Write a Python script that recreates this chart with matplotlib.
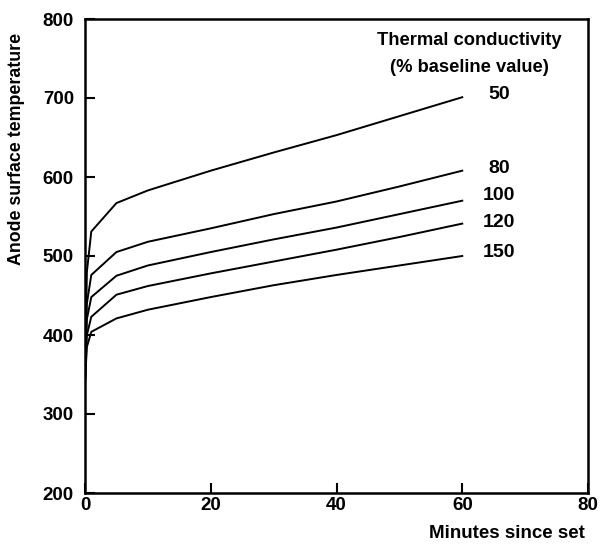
import matplotlib
matplotlib.use("Agg")
import matplotlib.pyplot as plt

plt.rcParams['font.family'] = ['Liberation Sans', 'DejaVu Sans']

minutes = [0, 0.3, 1, 5, 10, 20, 30, 40, 50, 60]
series_labels = ["50", "80", "100", "120", "150"]
temp_50 = [340, 480, 531, 567, 583, 608, 631, 653, 677, 701]
temp_80 = [340, 440, 476, 505, 518, 535, 553, 569, 588, 608]
temp_100 = [340, 420, 448, 475, 488, 505, 521, 536, 553, 570]
temp_120 = [340, 400, 423, 451, 462, 478, 493, 508, 524, 541]
temp_150 = [340, 385, 404, 421, 432, 448, 463, 476, 488, 500]
label_y = [704, 611, 576, 543, 504]
xticks = [0, 20, 40, 60, 80]
yticks = [200, 300, 400, 500, 600, 700, 800]

fig = plt.figure(figsize=(6.0, 5.46), dpi=100)
ax = fig.add_axes([85/600, 1-493/546, (588-85)/600, (493-19)/546])

for ys in [temp_50, temp_80, temp_100, temp_120, temp_150]:
    ax.plot(minutes, ys, color='black', lw=1.4)

for lab, yv in zip(series_labels, label_y):
    ax.text(65.9, yv, lab, ha='center', va='center', fontsize=14, fontweight='bold')

ax.text(61.2, 773, "Thermal conductivity", ha='center', va='center', fontsize=13.2, fontweight='bold')
ax.text(61.2, 739, "(% baseline value)", ha='center', va='center', fontsize=13.2, fontweight='bold')

ax.set_xlim(0, 80)
ax.set_ylim(200, 800)
ax.set_xticks(xticks)
ax.set_yticks(yticks)
ax.tick_params(direction='in', length=7, width=1.5, labelsize=13.5)
for lbl in ax.get_xticklabels() + ax.get_yticklabels():
    lbl.set_fontweight('bold')
ax.tick_params(axis='y', pad=8)
ax.tick_params(axis='x', pad=3)
for s in ax.spines.values():
    s.set_linewidth(1.8)

ax.set_ylabel("Anode surface temperature", fontsize=12.8, fontweight='bold')
ax.yaxis.set_label_coords(-0.12, 0.726)
ax.set_xlabel("Minutes since set", fontsize=13.5, fontweight='bold', loc='right')
ax.xaxis.set_label_coords(0.994, -0.067)

fig.savefig("out.png", dpi=100)
